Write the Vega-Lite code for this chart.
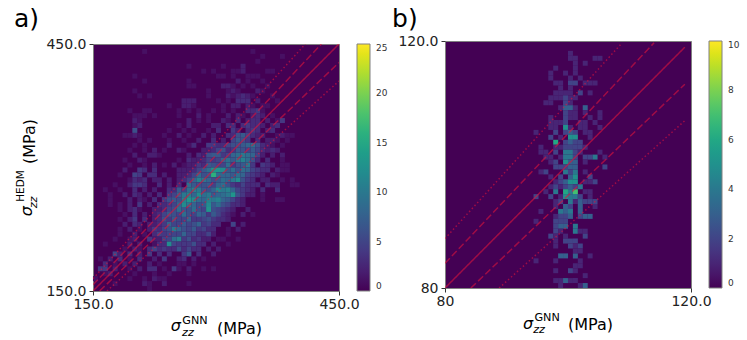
{
"$schema":"https://vega.github.io/schema/vega-lite/v6.json",
"padding":{"left":13,"top":4,"right":0,"bottom":0},
"background":"white",
"config":{"font":"DejaVu Sans","view":{"fill":"#440154","stroke":"#808080","strokeWidth":1}},
"spacing":2,
"align":"none",
"bounds":"full",
"resolve":{"scale":{"color":"independent"},"legend":{"color":"independent"}},
"datasets":{
"linesA":[{"x":150,"y":150,"k":"solid","g":"c"},{"x":450,"y":450,"k":"solid","g":"c"},{"x":150,"y":157.5,"k":"dashed","g":"u"},{"x":428.6,"y":450,"k":"dashed","g":"u"},{"x":158,"y":150,"k":"dashed","g":"l"},{"x":450,"y":427.5,"k":"dashed","g":"l"},{"x":150,"y":165,"k":"dotted","g":"u"},{"x":409,"y":450,"k":"dotted","g":"u"},{"x":167,"y":150,"k":"dotted","g":"l"},{"x":450,"y":405,"k":"dotted","g":"l"}],
"linesB":[{"x":80,"y":80,"k":"solid","g":"c"},{"x":119,"y":119,"k":"solid","g":"c"},{"x":80,"y":84,"k":"dashed","g":"u"},{"x":114,"y":119.7,"k":"dashed","g":"u"},{"x":84.2,"y":80,"k":"dashed","g":"l"},{"x":119,"y":113,"k":"dashed","g":"l"},{"x":80,"y":88,"k":"dotted","g":"u"},{"x":108.8,"y":119.7,"k":"dotted","g":"u"},{"x":88.8,"y":80,"k":"dotted","g":"l"},{"x":119,"y":107.1,"k":"dotted","g":"l"}],
"a":[
{"x":213,"y":441,"n":1},{"x":345,"y":441,"n":1},{"x":357,"y":435,"n":1},{"x":381,"y":435,"n":1},{"x":351,"y":429,"n":1},
{"x":267,"y":423,"n":1},{"x":333,"y":423,"n":2},{"x":309,"y":423,"n":1},
{"x":285,"y":417,"n":1},{"x":297,"y":417,"n":1},{"x":321,"y":417,"n":1},{"x":327,"y":417,"n":1},{"x":333,"y":417,"n":2},{"x":363,"y":417,"n":1},{"x":369,"y":417,"n":1},
{"x":201,"y":411,"n":1},{"x":303,"y":411,"n":1},{"x":309,"y":411,"n":1},{"x":321,"y":411,"n":1},{"x":339,"y":411,"n":1},{"x":345,"y":411,"n":1},{"x":351,"y":411,"n":1},
{"x":213,"y":405,"n":1},{"x":267,"y":405,"n":1},{"x":327,"y":405,"n":2},{"x":339,"y":405,"n":1},{"x":357,"y":405,"n":1},
{"x":267,"y":399,"n":1},{"x":273,"y":399,"n":1},{"x":309,"y":399,"n":2},{"x":315,"y":399,"n":2},{"x":321,"y":399,"n":1},{"x":333,"y":399,"n":1},{"x":345,"y":399,"n":1},{"x":363,"y":399,"n":1},
{"x":201,"y":393,"n":1},{"x":291,"y":393,"n":1},{"x":315,"y":393,"n":1},{"x":321,"y":393,"n":2},{"x":327,"y":393,"n":1},{"x":351,"y":393,"n":2},{"x":357,"y":393,"n":1},
{"x":207,"y":387,"n":1},{"x":219,"y":387,"n":1},{"x":291,"y":387,"n":1},{"x":315,"y":387,"n":2},{"x":321,"y":387,"n":1},{"x":327,"y":387,"n":2},{"x":333,"y":387,"n":3},{"x":339,"y":387,"n":2},{"x":345,"y":387,"n":1},{"x":369,"y":387,"n":1},
{"x":261,"y":381,"n":2},{"x":267,"y":381,"n":2},{"x":273,"y":381,"n":2},{"x":303,"y":381,"n":1},{"x":315,"y":381,"n":1},{"x":327,"y":381,"n":3},{"x":333,"y":381,"n":3},{"x":339,"y":381,"n":3},{"x":351,"y":381,"n":2},{"x":375,"y":381,"n":1},
{"x":243,"y":375,"n":1},{"x":261,"y":375,"n":2},{"x":267,"y":375,"n":2},{"x":273,"y":375,"n":1},{"x":309,"y":375,"n":1},{"x":321,"y":375,"n":2},{"x":327,"y":375,"n":2},{"x":339,"y":375,"n":2},{"x":345,"y":375,"n":1},{"x":357,"y":375,"n":1},{"x":363,"y":375,"n":1},
{"x":195,"y":369,"n":1},{"x":213,"y":369,"n":1},{"x":219,"y":369,"n":1},{"x":255,"y":369,"n":1},{"x":267,"y":369,"n":1},{"x":279,"y":369,"n":1},{"x":297,"y":369,"n":1},{"x":309,"y":369,"n":1},{"x":321,"y":369,"n":1},{"x":339,"y":369,"n":3},{"x":345,"y":369,"n":3},{"x":351,"y":369,"n":4},{"x":357,"y":369,"n":1},
{"x":201,"y":363,"n":1},{"x":207,"y":363,"n":1},{"x":213,"y":363,"n":1},{"x":225,"y":363,"n":1},{"x":255,"y":363,"n":1},{"x":279,"y":363,"n":2},{"x":291,"y":363,"n":1},{"x":315,"y":363,"n":2},{"x":327,"y":363,"n":2},{"x":333,"y":363,"n":1},{"x":345,"y":363,"n":2},{"x":351,"y":363,"n":3},{"x":357,"y":363,"n":2},{"x":369,"y":363,"n":1},
{"x":201,"y":357,"n":2},{"x":207,"y":357,"n":1},{"x":267,"y":357,"n":2},{"x":279,"y":357,"n":1},{"x":291,"y":357,"n":1},{"x":309,"y":357,"n":2},{"x":315,"y":357,"n":1},{"x":327,"y":357,"n":3},{"x":339,"y":357,"n":2},{"x":345,"y":357,"n":3},{"x":351,"y":357,"n":3},{"x":363,"y":357,"n":2},{"x":375,"y":357,"n":1},{"x":381,"y":357,"n":4},
{"x":201,"y":351,"n":1},{"x":207,"y":351,"n":2},{"x":255,"y":351,"n":1},{"x":267,"y":351,"n":2},{"x":297,"y":351,"n":2},{"x":303,"y":351,"n":2},{"x":315,"y":351,"n":3},{"x":321,"y":351,"n":3},{"x":333,"y":351,"n":3},{"x":339,"y":351,"n":4},{"x":345,"y":351,"n":3},{"x":351,"y":351,"n":3},{"x":357,"y":351,"n":2},{"x":369,"y":351,"n":2},{"x":375,"y":351,"n":3},
{"x":201,"y":345,"n":6},{"x":243,"y":345,"n":1},{"x":261,"y":345,"n":1},{"x":273,"y":345,"n":1},{"x":291,"y":345,"n":1},{"x":303,"y":345,"n":3},{"x":321,"y":345,"n":4},{"x":327,"y":345,"n":2},{"x":339,"y":345,"n":3},{"x":345,"y":345,"n":4},{"x":351,"y":345,"n":3},{"x":363,"y":345,"n":2},{"x":369,"y":345,"n":3},
{"x":189,"y":339,"n":1},{"x":195,"y":339,"n":1},{"x":201,"y":339,"n":2},{"x":207,"y":339,"n":1},{"x":237,"y":339,"n":1},{"x":255,"y":339,"n":2},{"x":267,"y":339,"n":1},{"x":285,"y":339,"n":2},{"x":297,"y":339,"n":2},{"x":315,"y":339,"n":3},{"x":321,"y":339,"n":3},{"x":327,"y":339,"n":6},{"x":333,"y":339,"n":7},{"x":339,"y":339,"n":5},{"x":345,"y":339,"n":3},{"x":351,"y":339,"n":2},{"x":357,"y":339,"n":2},{"x":375,"y":339,"n":1},{"x":381,"y":339,"n":2},{"x":387,"y":339,"n":1},{"x":393,"y":339,"n":1},
{"x":207,"y":333,"n":1},{"x":219,"y":333,"n":1},{"x":243,"y":333,"n":1},{"x":261,"y":333,"n":1},{"x":279,"y":333,"n":2},{"x":297,"y":333,"n":3},{"x":309,"y":333,"n":2},{"x":321,"y":333,"n":5},{"x":327,"y":333,"n":7},{"x":333,"y":333,"n":6},{"x":339,"y":333,"n":4},{"x":351,"y":333,"n":3},{"x":363,"y":333,"n":2},{"x":369,"y":333,"n":2},{"x":375,"y":333,"n":1},{"x":387,"y":333,"n":1},
{"x":201,"y":327,"n":1},{"x":213,"y":327,"n":1},{"x":243,"y":327,"n":2},{"x":267,"y":327,"n":1},{"x":273,"y":327,"n":3},{"x":291,"y":327,"n":4},{"x":297,"y":327,"n":4},{"x":303,"y":327,"n":3},{"x":309,"y":327,"n":3},{"x":315,"y":327,"n":5},{"x":321,"y":327,"n":6},{"x":327,"y":327,"n":6},{"x":333,"y":327,"n":7},{"x":339,"y":327,"n":8},{"x":345,"y":327,"n":9},{"x":351,"y":327,"n":6},{"x":357,"y":327,"n":3},{"x":363,"y":327,"n":2},{"x":369,"y":327,"n":1},{"x":381,"y":327,"n":1},
{"x":195,"y":321,"n":1},{"x":213,"y":321,"n":1},{"x":225,"y":321,"n":2},{"x":237,"y":321,"n":1},{"x":255,"y":321,"n":2},{"x":261,"y":321,"n":1},{"x":285,"y":321,"n":2},{"x":291,"y":321,"n":2},{"x":297,"y":321,"n":3},{"x":303,"y":321,"n":5},{"x":309,"y":321,"n":6},{"x":315,"y":321,"n":3},{"x":321,"y":321,"n":4},{"x":327,"y":321,"n":7},{"x":333,"y":321,"n":6},{"x":339,"y":321,"n":5},{"x":345,"y":321,"n":7},{"x":351,"y":321,"n":5},{"x":357,"y":321,"n":3},{"x":363,"y":321,"n":2},{"x":369,"y":321,"n":3},{"x":375,"y":321,"n":2},
{"x":201,"y":315,"n":2},{"x":219,"y":315,"n":2},{"x":225,"y":315,"n":2},{"x":231,"y":315,"n":1},{"x":267,"y":315,"n":2},{"x":279,"y":315,"n":3},{"x":285,"y":315,"n":2},{"x":291,"y":315,"n":6},{"x":297,"y":315,"n":7},{"x":303,"y":315,"n":7},{"x":309,"y":315,"n":4},{"x":315,"y":315,"n":5},{"x":321,"y":315,"n":8},{"x":327,"y":315,"n":9},{"x":333,"y":315,"n":10},{"x":339,"y":315,"n":9},{"x":345,"y":315,"n":8},{"x":351,"y":315,"n":5},{"x":357,"y":315,"n":2},{"x":369,"y":315,"n":2},{"x":381,"y":315,"n":2},
{"x":189,"y":309,"n":1},{"x":207,"y":309,"n":2},{"x":213,"y":309,"n":1},{"x":255,"y":309,"n":1},{"x":267,"y":309,"n":3},{"x":273,"y":309,"n":2},{"x":279,"y":309,"n":2},{"x":285,"y":309,"n":3},{"x":291,"y":309,"n":5},{"x":297,"y":309,"n":4},{"x":303,"y":309,"n":5},{"x":309,"y":309,"n":8},{"x":315,"y":309,"n":9},{"x":321,"y":309,"n":7},{"x":327,"y":309,"n":10},{"x":333,"y":309,"n":11},{"x":339,"y":309,"n":9},{"x":345,"y":309,"n":6},{"x":351,"y":309,"n":3},{"x":363,"y":309,"n":3},{"x":381,"y":309,"n":1},
{"x":195,"y":303,"n":1},{"x":213,"y":303,"n":1},{"x":225,"y":303,"n":2},{"x":237,"y":303,"n":1},{"x":249,"y":303,"n":2},{"x":261,"y":303,"n":1},{"x":267,"y":303,"n":2},{"x":273,"y":303,"n":2},{"x":279,"y":303,"n":4},{"x":285,"y":303,"n":3},{"x":291,"y":303,"n":7},{"x":297,"y":303,"n":6},{"x":303,"y":303,"n":5},{"x":309,"y":303,"n":5},{"x":315,"y":303,"n":9},{"x":321,"y":303,"n":4},{"x":327,"y":303,"n":6},{"x":333,"y":303,"n":7},{"x":339,"y":303,"n":10},{"x":345,"y":303,"n":4},{"x":357,"y":303,"n":4},{"x":363,"y":303,"n":3},{"x":369,"y":303,"n":2},{"x":381,"y":303,"n":1},{"x":387,"y":303,"n":1},
{"x":189,"y":297,"n":2},{"x":207,"y":297,"n":4},{"x":213,"y":297,"n":3},{"x":225,"y":297,"n":3},{"x":255,"y":297,"n":2},{"x":261,"y":297,"n":2},{"x":267,"y":297,"n":2},{"x":273,"y":297,"n":3},{"x":279,"y":297,"n":5},{"x":285,"y":297,"n":7},{"x":291,"y":297,"n":9},{"x":297,"y":297,"n":13},{"x":303,"y":297,"n":13},{"x":309,"y":297,"n":12},{"x":315,"y":297,"n":7},{"x":321,"y":297,"n":9},{"x":327,"y":297,"n":6},{"x":333,"y":297,"n":9},{"x":339,"y":297,"n":8},{"x":345,"y":297,"n":5},{"x":351,"y":297,"n":4},{"x":357,"y":297,"n":3},{"x":363,"y":297,"n":3},{"x":375,"y":297,"n":2},{"x":381,"y":297,"n":1},{"x":387,"y":297,"n":1},
{"x":183,"y":291,"n":1},{"x":201,"y":291,"n":5},{"x":207,"y":291,"n":4},{"x":219,"y":291,"n":3},{"x":225,"y":291,"n":3},{"x":237,"y":291,"n":2},{"x":255,"y":291,"n":2},{"x":261,"y":291,"n":2},{"x":267,"y":291,"n":3},{"x":273,"y":291,"n":5},{"x":279,"y":291,"n":9},{"x":285,"y":291,"n":6},{"x":291,"y":291,"n":7},{"x":297,"y":291,"n":16},{"x":303,"y":291,"n":9},{"x":309,"y":291,"n":8},{"x":315,"y":291,"n":8},{"x":321,"y":291,"n":7},{"x":327,"y":291,"n":9},{"x":333,"y":291,"n":8},{"x":339,"y":291,"n":5},{"x":345,"y":291,"n":4},{"x":351,"y":291,"n":3},{"x":357,"y":291,"n":2},{"x":369,"y":291,"n":2},{"x":375,"y":291,"n":1},
{"x":195,"y":285,"n":1},{"x":201,"y":285,"n":3},{"x":207,"y":285,"n":2},{"x":213,"y":285,"n":3},{"x":225,"y":285,"n":2},{"x":231,"y":285,"n":2},{"x":243,"y":285,"n":2},{"x":255,"y":285,"n":2},{"x":261,"y":285,"n":3},{"x":267,"y":285,"n":5},{"x":273,"y":285,"n":8},{"x":279,"y":285,"n":11},{"x":285,"y":285,"n":10},{"x":291,"y":285,"n":8},{"x":297,"y":285,"n":6},{"x":303,"y":285,"n":7},{"x":309,"y":285,"n":9},{"x":315,"y":285,"n":8},{"x":321,"y":285,"n":10},{"x":327,"y":285,"n":12},{"x":333,"y":285,"n":6},{"x":339,"y":285,"n":4},{"x":345,"y":285,"n":3},{"x":357,"y":285,"n":2},{"x":363,"y":285,"n":2},{"x":381,"y":285,"n":1},{"x":393,"y":285,"n":1},
{"x":177,"y":279,"n":1},{"x":195,"y":279,"n":2},{"x":201,"y":279,"n":4},{"x":207,"y":279,"n":4},{"x":213,"y":279,"n":3},{"x":231,"y":279,"n":3},{"x":243,"y":279,"n":2},{"x":255,"y":279,"n":3},{"x":267,"y":279,"n":9},{"x":273,"y":279,"n":7},{"x":279,"y":279,"n":6},{"x":285,"y":279,"n":6},{"x":291,"y":279,"n":7},{"x":297,"y":279,"n":5},{"x":303,"y":279,"n":8},{"x":309,"y":279,"n":9},{"x":315,"y":279,"n":6},{"x":321,"y":279,"n":4},{"x":327,"y":279,"n":3},{"x":333,"y":279,"n":5},{"x":339,"y":279,"n":3},{"x":345,"y":279,"n":3},{"x":351,"y":279,"n":3},{"x":363,"y":279,"n":3},{"x":369,"y":279,"n":2},{"x":375,"y":279,"n":2},{"x":393,"y":279,"n":1},{"x":399,"y":279,"n":1},
{"x":165,"y":273,"n":1},{"x":183,"y":273,"n":1},{"x":201,"y":273,"n":3},{"x":213,"y":273,"n":2},{"x":225,"y":273,"n":2},{"x":243,"y":273,"n":3},{"x":249,"y":273,"n":3},{"x":255,"y":273,"n":7},{"x":261,"y":273,"n":5},{"x":267,"y":273,"n":9},{"x":273,"y":273,"n":11},{"x":279,"y":273,"n":10},{"x":285,"y":273,"n":7},{"x":291,"y":273,"n":6},{"x":297,"y":273,"n":8},{"x":303,"y":273,"n":12},{"x":309,"y":273,"n":10},{"x":315,"y":273,"n":11},{"x":321,"y":273,"n":8},{"x":327,"y":273,"n":5},{"x":333,"y":273,"n":4},{"x":339,"y":273,"n":3},{"x":345,"y":273,"n":2},{"x":357,"y":273,"n":3},{"x":375,"y":273,"n":3},
{"x":171,"y":267,"n":1},{"x":189,"y":267,"n":2},{"x":201,"y":267,"n":3},{"x":207,"y":267,"n":2},{"x":219,"y":267,"n":2},{"x":231,"y":267,"n":3},{"x":243,"y":267,"n":4},{"x":249,"y":267,"n":5},{"x":255,"y":267,"n":8},{"x":261,"y":267,"n":10},{"x":267,"y":267,"n":11},{"x":273,"y":267,"n":8},{"x":279,"y":267,"n":12},{"x":285,"y":267,"n":9},{"x":291,"y":267,"n":10},{"x":297,"y":267,"n":7},{"x":303,"y":267,"n":8},{"x":309,"y":267,"n":9},{"x":315,"y":267,"n":10},{"x":321,"y":267,"n":13},{"x":327,"y":267,"n":6},{"x":333,"y":267,"n":4},{"x":339,"y":267,"n":2},{"x":345,"y":267,"n":2},{"x":357,"y":267,"n":1},
{"x":171,"y":261,"n":1},{"x":195,"y":261,"n":2},{"x":207,"y":261,"n":2},{"x":213,"y":261,"n":1},{"x":225,"y":261,"n":3},{"x":237,"y":261,"n":4},{"x":243,"y":261,"n":6},{"x":249,"y":261,"n":7},{"x":255,"y":261,"n":6},{"x":261,"y":261,"n":11},{"x":267,"y":261,"n":13},{"x":273,"y":261,"n":12},{"x":279,"y":261,"n":9},{"x":285,"y":261,"n":8},{"x":291,"y":261,"n":11},{"x":297,"y":261,"n":10},{"x":303,"y":261,"n":11},{"x":309,"y":261,"n":8},{"x":315,"y":261,"n":7},{"x":321,"y":261,"n":5},{"x":327,"y":261,"n":3},{"x":333,"y":261,"n":2},{"x":357,"y":261,"n":1},{"x":375,"y":261,"n":1},{"x":381,"y":261,"n":1},
{"x":171,"y":255,"n":1},{"x":183,"y":255,"n":1},{"x":195,"y":255,"n":2},{"x":207,"y":255,"n":4},{"x":219,"y":255,"n":2},{"x":231,"y":255,"n":3},{"x":237,"y":255,"n":3},{"x":243,"y":255,"n":4},{"x":249,"y":255,"n":5},{"x":255,"y":255,"n":8},{"x":261,"y":255,"n":12},{"x":267,"y":255,"n":10},{"x":273,"y":255,"n":8},{"x":279,"y":255,"n":6},{"x":285,"y":255,"n":7},{"x":291,"y":255,"n":12},{"x":297,"y":255,"n":7},{"x":303,"y":255,"n":9},{"x":309,"y":255,"n":6},{"x":315,"y":255,"n":5},{"x":321,"y":255,"n":3},{"x":327,"y":255,"n":3},{"x":333,"y":255,"n":2},
{"x":183,"y":249,"n":1},{"x":195,"y":249,"n":2},{"x":201,"y":249,"n":3},{"x":207,"y":249,"n":1},{"x":225,"y":249,"n":2},{"x":231,"y":249,"n":2},{"x":237,"y":249,"n":3},{"x":243,"y":249,"n":5},{"x":249,"y":249,"n":6},{"x":255,"y":249,"n":9},{"x":261,"y":249,"n":7},{"x":267,"y":249,"n":6},{"x":273,"y":249,"n":9},{"x":279,"y":249,"n":6},{"x":285,"y":249,"n":5},{"x":291,"y":249,"n":13},{"x":297,"y":249,"n":6},{"x":303,"y":249,"n":5},{"x":309,"y":249,"n":4},{"x":315,"y":249,"n":3},{"x":321,"y":249,"n":2},{"x":339,"y":249,"n":2},
{"x":189,"y":243,"n":1},{"x":201,"y":243,"n":3},{"x":213,"y":243,"n":2},{"x":225,"y":243,"n":2},{"x":231,"y":243,"n":3},{"x":237,"y":243,"n":5},{"x":243,"y":243,"n":7},{"x":249,"y":243,"n":6},{"x":255,"y":243,"n":5},{"x":261,"y":243,"n":9},{"x":267,"y":243,"n":6},{"x":273,"y":243,"n":5},{"x":279,"y":243,"n":8},{"x":285,"y":243,"n":7},{"x":291,"y":243,"n":4},{"x":297,"y":243,"n":7},{"x":303,"y":243,"n":5},{"x":309,"y":243,"n":3},{"x":315,"y":243,"n":2},{"x":321,"y":243,"n":1},{"x":333,"y":243,"n":2},{"x":345,"y":243,"n":1},
{"x":183,"y":237,"n":1},{"x":195,"y":237,"n":2},{"x":201,"y":237,"n":4},{"x":213,"y":237,"n":3},{"x":225,"y":237,"n":2},{"x":231,"y":237,"n":3},{"x":237,"y":237,"n":6},{"x":243,"y":237,"n":4},{"x":249,"y":237,"n":7},{"x":255,"y":237,"n":5},{"x":261,"y":237,"n":5},{"x":267,"y":237,"n":8},{"x":273,"y":237,"n":4},{"x":279,"y":237,"n":4},{"x":285,"y":237,"n":5},{"x":291,"y":237,"n":6},{"x":297,"y":237,"n":4},{"x":303,"y":237,"n":3},{"x":309,"y":237,"n":3},{"x":315,"y":237,"n":2},
{"x":189,"y":231,"n":2},{"x":201,"y":231,"n":3},{"x":207,"y":231,"n":2},{"x":219,"y":231,"n":2},{"x":225,"y":231,"n":2},{"x":231,"y":231,"n":3},{"x":237,"y":231,"n":4},{"x":243,"y":231,"n":8},{"x":249,"y":231,"n":5},{"x":255,"y":231,"n":5},{"x":261,"y":231,"n":7},{"x":267,"y":231,"n":5},{"x":273,"y":231,"n":6},{"x":279,"y":231,"n":8},{"x":285,"y":231,"n":4},{"x":291,"y":231,"n":5},{"x":297,"y":231,"n":3},{"x":303,"y":231,"n":3},{"x":321,"y":231,"n":5},{"x":333,"y":231,"n":2},
{"x":183,"y":225,"n":1},{"x":195,"y":225,"n":2},{"x":207,"y":225,"n":1},{"x":219,"y":225,"n":2},{"x":225,"y":225,"n":4},{"x":231,"y":225,"n":3},{"x":237,"y":225,"n":5},{"x":243,"y":225,"n":6},{"x":249,"y":225,"n":10},{"x":255,"y":225,"n":8},{"x":261,"y":225,"n":6},{"x":267,"y":225,"n":5},{"x":273,"y":225,"n":7},{"x":279,"y":225,"n":4},{"x":285,"y":225,"n":5},{"x":291,"y":225,"n":3},{"x":297,"y":225,"n":3},{"x":315,"y":225,"n":1},{"x":327,"y":225,"n":2},
{"x":183,"y":219,"n":1},{"x":201,"y":219,"n":2},{"x":213,"y":219,"n":1},{"x":225,"y":219,"n":3},{"x":231,"y":219,"n":5},{"x":237,"y":219,"n":4},{"x":243,"y":219,"n":5},{"x":249,"y":219,"n":5},{"x":255,"y":219,"n":5},{"x":261,"y":219,"n":8},{"x":267,"y":219,"n":5},{"x":273,"y":219,"n":5},{"x":279,"y":219,"n":3},{"x":285,"y":219,"n":3},{"x":291,"y":219,"n":5},{"x":297,"y":219,"n":2},{"x":315,"y":219,"n":1},
{"x":177,"y":213,"n":1},{"x":195,"y":213,"n":1},{"x":201,"y":213,"n":2},{"x":219,"y":213,"n":4},{"x":225,"y":213,"n":2},{"x":231,"y":213,"n":2},{"x":237,"y":213,"n":5},{"x":243,"y":213,"n":5},{"x":249,"y":213,"n":9},{"x":255,"y":213,"n":11},{"x":261,"y":213,"n":4},{"x":267,"y":213,"n":6},{"x":273,"y":213,"n":3},{"x":279,"y":213,"n":4},{"x":285,"y":213,"n":2},{"x":291,"y":213,"n":2},{"x":303,"y":213,"n":1},{"x":309,"y":213,"n":1},{"x":327,"y":213,"n":1},
{"x":165,"y":207,"n":1},{"x":195,"y":207,"n":2},{"x":207,"y":207,"n":2},{"x":225,"y":207,"n":1},{"x":231,"y":207,"n":3},{"x":237,"y":207,"n":3},{"x":243,"y":207,"n":12},{"x":249,"y":207,"n":5},{"x":255,"y":207,"n":4},{"x":261,"y":207,"n":4},{"x":267,"y":207,"n":4},{"x":273,"y":207,"n":6},{"x":279,"y":207,"n":3},{"x":285,"y":207,"n":3},{"x":297,"y":207,"n":2},{"x":315,"y":207,"n":1},
{"x":189,"y":201,"n":1},{"x":201,"y":201,"n":2},{"x":207,"y":201,"n":1},{"x":219,"y":201,"n":3},{"x":225,"y":201,"n":5},{"x":231,"y":201,"n":3},{"x":237,"y":201,"n":4},{"x":243,"y":201,"n":3},{"x":249,"y":201,"n":3},{"x":255,"y":201,"n":6},{"x":261,"y":201,"n":3},{"x":267,"y":201,"n":5},{"x":273,"y":201,"n":3},{"x":279,"y":201,"n":3},{"x":291,"y":201,"n":2},{"x":303,"y":201,"n":2},
{"x":177,"y":195,"n":5},{"x":183,"y":195,"n":2},{"x":195,"y":195,"n":3},{"x":207,"y":195,"n":2},{"x":219,"y":195,"n":4},{"x":231,"y":195,"n":3},{"x":243,"y":195,"n":3},{"x":261,"y":195,"n":4},{"x":267,"y":195,"n":7},{"x":279,"y":195,"n":3},{"x":297,"y":195,"n":2},
{"x":159,"y":189,"n":1},{"x":171,"y":189,"n":2},{"x":183,"y":189,"n":3},{"x":195,"y":189,"n":1},{"x":207,"y":189,"n":3},{"x":225,"y":189,"n":2},{"x":237,"y":189,"n":4},{"x":255,"y":189,"n":2},{"x":261,"y":189,"n":3},{"x":273,"y":189,"n":2},{"x":285,"y":189,"n":1},
{"x":165,"y":183,"n":3},{"x":177,"y":183,"n":1},{"x":189,"y":183,"n":2},{"x":201,"y":183,"n":2},{"x":219,"y":183,"n":2},{"x":231,"y":183,"n":1},{"x":255,"y":183,"n":1},{"x":261,"y":183,"n":1},{"x":273,"y":183,"n":1},
{"x":159,"y":177,"n":4},{"x":165,"y":177,"n":4},{"x":177,"y":177,"n":2},{"x":195,"y":177,"n":1},{"x":207,"y":177,"n":2},{"x":219,"y":177,"n":3},{"x":225,"y":177,"n":3},{"x":237,"y":177,"n":1},{"x":249,"y":177,"n":4},{"x":255,"y":177,"n":1},{"x":267,"y":177,"n":2},{"x":285,"y":177,"n":1},{"x":297,"y":177,"n":1},
{"x":165,"y":171,"n":1},{"x":171,"y":171,"n":2},{"x":201,"y":171,"n":1},{"x":225,"y":171,"n":1},{"x":243,"y":171,"n":1},{"x":267,"y":171,"n":1},
{"x":153,"y":165,"n":1},{"x":195,"y":165,"n":1},{"x":213,"y":165,"n":1},{"x":225,"y":165,"n":2},{"x":231,"y":165,"n":1},{"x":237,"y":165,"n":1},
{"x":177,"y":159,"n":1},{"x":213,"y":159,"n":2},{"x":219,"y":159,"n":1},{"x":237,"y":159,"n":2},{"x":267,"y":159,"n":1},
{"x":219,"y":153,"n":1}
],
"b":[
{"x":100.4,"y":118,"n":1},{"x":100.4,"y":117.2,"n":1},{"x":101.2,"y":117.2,"n":1},{"x":104.4,"y":117.2,"n":1},{"x":105.2,"y":117.2,"n":1},
{"x":101.2,"y":116.4,"n":1},{"x":102.8,"y":116.4,"n":1},{"x":98,"y":115.6,"n":1},{"x":101.2,"y":115.6,"n":1},{"x":97.2,"y":114.8,"n":1},{"x":99.6,"y":114.8,"n":1},{"x":101.2,"y":114.8,"n":1},
{"x":97.2,"y":114,"n":1},{"x":100.4,"y":114,"n":1},{"x":102,"y":114,"n":1},
{"x":98,"y":113.2,"n":1},{"x":98.8,"y":113.2,"n":1},{"x":100.4,"y":113.2,"n":2},{"x":101.2,"y":113.2,"n":2},{"x":102.8,"y":113.2,"n":1},{"x":103.6,"y":113.2,"n":1},{"x":104.4,"y":113.2,"n":1},
{"x":98.8,"y":112.4,"n":1},{"x":100.4,"y":112.4,"n":1},
{"x":98,"y":111.6,"n":1},{"x":98.8,"y":111.6,"n":1},{"x":99.6,"y":111.6,"n":1},{"x":100.4,"y":111.6,"n":1},{"x":102,"y":111.6,"n":2},{"x":103.6,"y":111.6,"n":1},
{"x":97.2,"y":110.8,"n":1},{"x":98,"y":110.8,"n":1},{"x":98.8,"y":110.8,"n":1},{"x":99.6,"y":110.8,"n":2},{"x":100.4,"y":110.8,"n":1},{"x":101.2,"y":110.8,"n":1},
{"x":96.4,"y":110,"n":1},{"x":97.2,"y":110,"n":1},{"x":99.6,"y":110,"n":2},{"x":100.4,"y":110,"n":1},
{"x":98.8,"y":109.2,"n":1},{"x":99.6,"y":109.2,"n":3},{"x":100.4,"y":109.2,"n":3},{"x":101.2,"y":109.2,"n":1},{"x":102.8,"y":109.2,"n":3},
{"x":99.6,"y":108.4,"n":2},{"x":100.4,"y":108.4,"n":1},{"x":101.2,"y":108.4,"n":1},{"x":102.8,"y":108.4,"n":1},{"x":105.2,"y":108.4,"n":1},
{"x":97.2,"y":107.6,"n":1},{"x":99.6,"y":107.6,"n":2},{"x":100.4,"y":107.6,"n":1},{"x":101.2,"y":107.6,"n":1},{"x":103.6,"y":107.6,"n":1},{"x":105.2,"y":107.6,"n":1},
{"x":97.2,"y":106.8,"n":1},{"x":98,"y":106.8,"n":1},{"x":98.8,"y":106.8,"n":1},{"x":99.6,"y":106.8,"n":2},{"x":102,"y":106.8,"n":1},{"x":102.8,"y":106.8,"n":1},{"x":104.4,"y":106.8,"n":1},
{"x":97.2,"y":106,"n":1},{"x":98,"y":106,"n":1},{"x":99.6,"y":106,"n":5},{"x":100.4,"y":106,"n":1},{"x":102,"y":106,"n":1},{"x":102.8,"y":106,"n":1},{"x":105.2,"y":106,"n":1},
{"x":94.8,"y":105.2,"n":1},{"x":98,"y":105.2,"n":2},{"x":99.6,"y":105.2,"n":2},{"x":100.4,"y":105.2,"n":3},{"x":101.2,"y":105.2,"n":2},{"x":102.8,"y":105.2,"n":1},{"x":103.6,"y":105.2,"n":1},
{"x":97.2,"y":104.4,"n":2},{"x":98.8,"y":104.4,"n":1},{"x":100.4,"y":104.4,"n":5},{"x":101.2,"y":104.4,"n":5},{"x":103.6,"y":104.4,"n":1},
{"x":98,"y":103.6,"n":6},{"x":99.6,"y":103.6,"n":2},{"x":100.4,"y":103.6,"n":3},{"x":101.2,"y":103.6,"n":2},{"x":102,"y":103.6,"n":2},
{"x":95.6,"y":102.8,"n":1},{"x":98,"y":102.8,"n":1},{"x":98.8,"y":102.8,"n":1},{"x":99.6,"y":102.8,"n":2},{"x":100.4,"y":102.8,"n":2},{"x":101.2,"y":102.8,"n":2},{"x":102,"y":102.8,"n":2},{"x":102.8,"y":102.8,"n":1},
{"x":95.6,"y":102,"n":1},{"x":96.4,"y":102,"n":1},{"x":98,"y":102,"n":2},{"x":99.6,"y":102,"n":4},{"x":100.4,"y":102,"n":4},{"x":101.2,"y":102,"n":2},{"x":102,"y":102,"n":1},{"x":105.2,"y":102,"n":1},
{"x":96.4,"y":101.2,"n":1},{"x":97.2,"y":101.2,"n":1},{"x":98.8,"y":101.2,"n":1},{"x":99.6,"y":101.2,"n":4},{"x":100.4,"y":101.2,"n":4},{"x":101.2,"y":101.2,"n":2},{"x":102.8,"y":101.2,"n":2},{"x":103.6,"y":101.2,"n":2},{"x":104.4,"y":101.2,"n":4},{"x":106,"y":101.2,"n":1},
{"x":97.2,"y":100.4,"n":1},{"x":98,"y":100.4,"n":2},{"x":99.6,"y":100.4,"n":5},{"x":100.4,"y":100.4,"n":3},{"x":101.2,"y":100.4,"n":3},{"x":102.8,"y":100.4,"n":1},
{"x":98,"y":99.6,"n":2},{"x":98.8,"y":99.6,"n":2},{"x":99.6,"y":99.6,"n":2},{"x":100.4,"y":99.6,"n":3},{"x":101.2,"y":99.6,"n":3},{"x":106,"y":99.6,"n":2},
{"x":95.6,"y":98.8,"n":1},{"x":96.4,"y":98.8,"n":2},{"x":99.6,"y":98.8,"n":4},{"x":100.4,"y":98.8,"n":2},{"x":101.2,"y":98.8,"n":4},{"x":102.8,"y":98.8,"n":1},
{"x":97.2,"y":98,"n":1},{"x":98.8,"y":98,"n":2},{"x":100.4,"y":98,"n":3},{"x":101.2,"y":98,"n":5},{"x":103.6,"y":98,"n":2},
{"x":98,"y":97.2,"n":1},{"x":98.8,"y":97.2,"n":2},{"x":99.6,"y":97.2,"n":3},{"x":100.4,"y":97.2,"n":5},{"x":101.2,"y":97.2,"n":5},{"x":102.8,"y":97.2,"n":1},{"x":103.6,"y":97.2,"n":1},{"x":104.4,"y":97.2,"n":2},
{"x":97.2,"y":96.4,"n":1},{"x":98,"y":96.4,"n":2},{"x":98.8,"y":96.4,"n":1},{"x":99.6,"y":96.4,"n":2},{"x":100.4,"y":96.4,"n":3},{"x":101.2,"y":96.4,"n":2},{"x":102,"y":96.4,"n":4},
{"x":96.4,"y":95.6,"n":1},{"x":98,"y":95.6,"n":4},{"x":99.6,"y":95.6,"n":6},{"x":100.4,"y":95.6,"n":4},{"x":101.2,"y":95.6,"n":7},{"x":102.8,"y":95.6,"n":1},{"x":103.6,"y":95.6,"n":1},
{"x":94.8,"y":94.8,"n":2},{"x":97.2,"y":94.8,"n":2},{"x":98.8,"y":94.8,"n":1},{"x":99.6,"y":94.8,"n":5},{"x":100.4,"y":94.8,"n":4},{"x":101.2,"y":94.8,"n":4},{"x":102,"y":94.8,"n":2},{"x":103.6,"y":94.8,"n":1},
{"x":98,"y":94,"n":1},{"x":98.8,"y":94,"n":2},{"x":100.4,"y":94,"n":4},{"x":101.2,"y":94,"n":1},{"x":102,"y":94,"n":3},{"x":102.8,"y":94,"n":2},{"x":103.6,"y":94,"n":2},{"x":104.4,"y":94,"n":2},
{"x":98,"y":93.2,"n":1},{"x":99.6,"y":93.2,"n":3},{"x":100.4,"y":93.2,"n":2},{"x":102,"y":93.2,"n":3},{"x":104.4,"y":93.2,"n":1},
{"x":95.6,"y":92.4,"n":1},{"x":98.8,"y":92.4,"n":4},{"x":99.6,"y":92.4,"n":3},{"x":100.4,"y":92.4,"n":4},{"x":102,"y":92.4,"n":3},
{"x":98,"y":91.6,"n":1},{"x":98.8,"y":91.6,"n":2},{"x":99.6,"y":91.6,"n":2},{"x":100.4,"y":91.6,"n":3},{"x":102,"y":91.6,"n":2},{"x":102.8,"y":91.6,"n":3},{"x":103.6,"y":91.6,"n":3},
{"x":94.8,"y":90.8,"n":1},{"x":98,"y":90.8,"n":2},{"x":98.8,"y":90.8,"n":2},{"x":99.6,"y":90.8,"n":2},
{"x":98,"y":90,"n":2},{"x":98.8,"y":90,"n":3},{"x":99.6,"y":90,"n":3},{"x":101.2,"y":90,"n":4},
{"x":98,"y":89.2,"n":2},{"x":98.8,"y":89.2,"n":1},{"x":101.2,"y":89.2,"n":4},{"x":102,"y":89.2,"n":1},{"x":102.8,"y":89.2,"n":1},
{"x":97.2,"y":88.4,"n":2},{"x":98,"y":88.4,"n":1},{"x":99.6,"y":88.4,"n":1},{"x":102.8,"y":88.4,"n":2},
{"x":98,"y":87.6,"n":1},{"x":99.6,"y":87.6,"n":2},{"x":100.4,"y":87.6,"n":2},{"x":101.2,"y":87.6,"n":2},
{"x":98,"y":86.8,"n":1},{"x":100.4,"y":86.8,"n":2},{"x":101.2,"y":86.8,"n":1},{"x":102,"y":86.8,"n":2},
{"x":101.2,"y":86,"n":1},{"x":102,"y":86,"n":1},
{"x":98.8,"y":85.2,"n":3},{"x":99.6,"y":85.2,"n":3},{"x":101.2,"y":85.2,"n":3},{"x":103.6,"y":85.2,"n":1},
{"x":94.8,"y":84.4,"n":1},{"x":98,"y":84.4,"n":1},{"x":102,"y":84.4,"n":1},
{"x":101.2,"y":83.6,"n":1},{"x":102,"y":83.6,"n":1},
{"x":98,"y":82.8,"n":1},{"x":100.4,"y":82.8,"n":2},{"x":101.2,"y":82.8,"n":1},
{"x":102.8,"y":82,"n":1},
{"x":98,"y":81.2,"n":1},{"x":98.8,"y":81.2,"n":1},{"x":99.6,"y":81.2,"n":3},{"x":100.4,"y":81.2,"n":1},{"x":101.2,"y":81.2,"n":1},
{"x":98.8,"y":80.4,"n":1},{"x":102,"y":80.4,"n":1},{"x":102.8,"y":80.4,"n":3}
]
},
"hconcat":[
{"spacing":0,"align":"none","bounds":"full","resolve":{"scale":{"color":"independent"},"legend":{"color":"independent"}},"vconcat":[
{"width":1,"height":1,"view":{"fill":null,"stroke":null},"data":{"values":[{"s":0}]},"mark":{"type":"rule","opacity":0,"strokeWidth":0},"encoding":{}},
{"width":246,"height":247,
"layer":[
{"data":{"name":"a"},"mark":{"type":"rect","width":5,"height":5},
"encoding":{
"x":{"field":"x","type":"quantitative","scale":{"domain":[150,450],"nice":false},"axis":{"values":[150,450],"format":".1f","grid":false,"title":"(MPa)","titleFontSize":16,"titleFontWeight":"normal","titleX":146,"titleY":42,"titleBaseline":"alphabetic","labelFontSize":14,"labelColor":"#222","labelPadding":2,"tickSize":4,"tickColor":"#333","domain":false,"labelOverlap":false,"labelBound":false,"labelFlush":false}},
"y":{"field":"y","type":"quantitative","scale":{"domain":[150,450],"nice":false},"axis":{"values":[150,450],"format":".1f","grid":false,"title":"(MPa)","titleFontSize":16,"titleFontWeight":"normal","titleX":-59,"titleY":97,"titleBaseline":"alphabetic","labelFontSize":14,"labelColor":"#222","labelPadding":3,"tickSize":4,"tickColor":"#333","domain":false,"labelOverlap":false,"labelBound":false,"labelFlush":false}},
"color":{"field":"n","type":"quantitative","scale":{"scheme":"viridis","domain":[0,25]},"legend":{"title":null,"orient":"right","offset":18,"gradientLength":247,"gradientThickness":13,"values":[0,5,10,15,20,25],"labelFontSize":9,"labelColor":"#333","labelBaseline":"middle","labelOffset":6,"gradientStrokeColor":"#808080","gradientStrokeWidth":1}}
}},
{"data":{"name":"linesA"},"mark":{"type":"line","color":"crimson","opacity":0.6,"strokeWidth":1.5,"clip":true},
"encoding":{"x":{"field":"x","type":"quantitative"},"y":{"field":"y","type":"quantitative"},"detail":{"field":"g"},"strokeDash":{"field":"k","type":"nominal","scale":{"domain":["solid","dashed","dotted"],"range":[[1,0],[7,3],[1.5,2.5]]},"legend":null}}},
{"data":{"values":[{"t":"a)","x":53.6,"y":470.6}]},"mark":{"type":"text","fontSize":25,"align":"left","baseline":"alphabetic","color":"black"},"encoding":{"x":{"field":"x","type":"quantitative"},"y":{"field":"y","type":"quantitative"},"text":{"field":"t"}}},
{"data":{"values":[{"t":"σ","x":251,"y":101.4}]},"mark":{"type":"text","fontSize":16,"fontStyle":"italic","align":"center","baseline":"alphabetic"},"encoding":{"x":{"field":"x","type":"quantitative"},"y":{"field":"y","type":"quantitative"},"text":{"field":"t"}}},
{"data":{"values":[{"t":"zz","x":265.8,"y":95.3}]},"mark":{"type":"text","fontSize":11.2,"fontStyle":"italic","align":"center","baseline":"alphabetic"},"encoding":{"x":{"field":"x","type":"quantitative"},"y":{"field":"y","type":"quantitative"},"text":{"field":"t"}}},
{"data":{"values":[{"t":"GNN","x":274.4,"y":110}]},"mark":{"type":"text","fontSize":11.2,"align":"center","baseline":"alphabetic"},"encoding":{"x":{"field":"x","type":"quantitative"},"y":{"field":"y","type":"quantitative"},"text":{"field":"t"}}},
{"data":{"values":[{"t":"σ","x":75.6,"y":247}]},"mark":{"type":"text","fontSize":16,"fontStyle":"italic","align":"center","baseline":"alphabetic","angle":270},"encoding":{"x":{"field":"x","type":"quantitative"},"y":{"field":"y","type":"quantitative"},"text":{"field":"t"}}},
{"data":{"values":[{"t":"zz","x":81.7,"y":257.5}]},"mark":{"type":"text","fontSize":11.2,"fontStyle":"italic","align":"center","baseline":"alphabetic","angle":270},"encoding":{"x":{"field":"x","type":"quantitative"},"y":{"field":"y","type":"quantitative"},"text":{"field":"t"}}},
{"data":{"values":[{"t":"HEDM","x":65.8,"y":277.5}]},"mark":{"type":"text","fontSize":10.5,"align":"center","baseline":"alphabetic","angle":270},"encoding":{"x":{"field":"x","type":"quantitative"},"y":{"field":"y","type":"quantitative"},"text":{"field":"t"}}}
]}]},
{"spacing":0,"align":"none","bounds":"full","resolve":{"scale":{"color":"independent"},"legend":{"color":"independent"}},"vconcat":[
{"width":1,"height":1,"view":{"fill":null,"stroke":null},"data":{"values":[{"s":0}]},"mark":{"type":"rule","opacity":0,"strokeWidth":0},"encoding":{}},
{"width":246,"height":247,
"layer":[
{"data":{"name":"b"},"mark":{"type":"rect","width":5,"height":5},
"encoding":{
"x":{"field":"x","type":"quantitative","scale":{"domain":[80,120],"nice":false},"axis":{"values":[80,120],"labelExpr":"datum.value==80?'80':'120.0'","grid":false,"title":"(MPa)","titleFontSize":16,"titleFontWeight":"normal","titleX":145,"titleY":41,"titleBaseline":"alphabetic","labelFontSize":14,"labelColor":"#222","labelPadding":2,"tickSize":4,"tickColor":"#333","domain":false,"labelOverlap":false,"labelBound":false,"labelFlush":false}},
"y":{"field":"y","type":"quantitative","scale":{"domain":[80,120],"nice":false},"axis":{"values":[80,120],"labelExpr":"datum.value==80?'80':'120.0'","grid":false,"title":null,"labelFontSize":14,"labelColor":"#222","labelPadding":3,"tickSize":4,"tickColor":"#333","domain":false,"labelOverlap":false,"labelBound":false,"labelFlush":false}},
"color":{"field":"n","type":"quantitative","scale":{"scheme":"viridis","domain":[0,10]},"legend":{"title":null,"orient":"right","offset":18,"gradientLength":247,"gradientThickness":13,"values":[0,2,4,6,8,10],"labelFontSize":9,"labelColor":"#333","labelBaseline":"middle","labelOffset":6,"gradientStrokeColor":"#808080","gradientStrokeWidth":1}}
}},
{"data":{"name":"linesB"},"mark":{"type":"line","color":"crimson","opacity":0.6,"strokeWidth":1.5,"clip":true},
"encoding":{"x":{"field":"x","type":"quantitative"},"y":{"field":"y","type":"quantitative"},"detail":{"field":"g"},"strokeDash":{"field":"k","type":"nominal","scale":{"domain":["solid","dashed","dotted"],"range":[[1,0],[7,3],[1.5,2.5]]},"legend":null}}},
{"data":{"values":[{"t":"b)","x":71.4,"y":122.2}]},"mark":{"type":"text","fontSize":25,"align":"left","baseline":"alphabetic","color":"black"},"encoding":{"x":{"field":"x","type":"quantitative"},"y":{"field":"y","type":"quantitative"},"text":{"field":"t"}}},
{"data":{"values":[{"t":"σ","x":93.5,"y":73.4}]},"mark":{"type":"text","fontSize":16,"fontStyle":"italic","align":"center","baseline":"alphabetic"},"encoding":{"x":{"field":"x","type":"quantitative"},"y":{"field":"y","type":"quantitative"},"text":{"field":"t"}}},
{"data":{"values":[{"t":"zz","x":95.3,"y":72.7}]},"mark":{"type":"text","fontSize":11.2,"fontStyle":"italic","align":"center","baseline":"alphabetic"},"encoding":{"x":{"field":"x","type":"quantitative"},"y":{"field":"y","type":"quantitative"},"text":{"field":"t"}}},
{"data":{"values":[{"t":"GNN","x":96.6,"y":74.7}]},"mark":{"type":"text","fontSize":11.2,"align":"center","baseline":"alphabetic"},"encoding":{"x":{"field":"x","type":"quantitative"},"y":{"field":"y","type":"quantitative"},"text":{"field":"t"}}}
]}]}
]
}
